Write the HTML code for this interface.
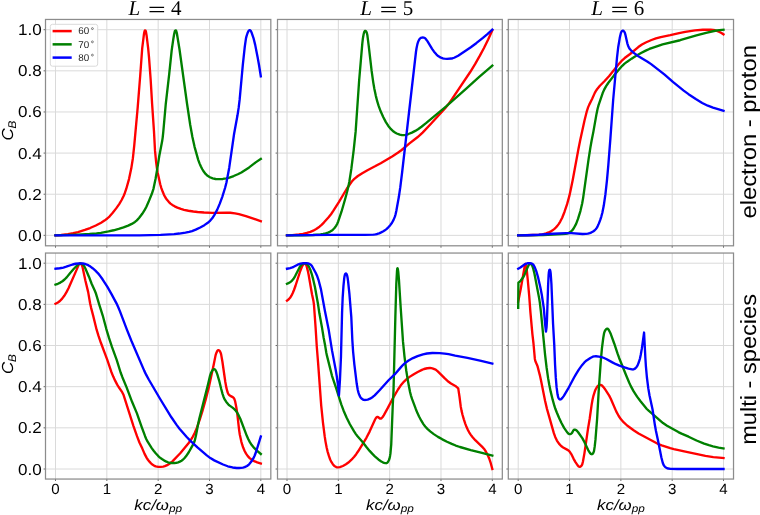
<!DOCTYPE html><html><head><meta charset="utf-8"><style>html,body{margin:0;padding:0;background:#fff;width:760px;height:515px;overflow:hidden}svg{display:block;will-change:transform;text-rendering:geometricPrecision}</style></head><body>
<svg width="760" height="515" viewBox="0 0 760 515">
<rect width="760" height="515" fill="#fff"/>
<clipPath id="c00"><rect x="45.50" y="19.45" width="225.32" height="226.35"/></clipPath>
<path d="M55.50,19.45V245.80M106.83,19.45V245.80M158.16,19.45V245.80M209.49,19.45V245.80M260.82,19.45V245.80M45.50,235.35H270.82M45.50,194.22H270.82M45.50,153.09H270.82M45.50,111.96H270.82M45.50,70.83H270.82M45.50,29.70H270.82" stroke="#dadada" stroke-width="1" fill="none"/>
<path d="M55.50,235.35 61.24,234.96 67.93,234.11 73.11,233.25 77.97,232.06 84.91,229.95 90.07,228.04 95.79,225.52 101.11,222.75 104.49,220.61 107.28,218.51 109.66,216.29 112.33,213.31 116.18,208.39 119.20,204.10 121.63,200.02 123.73,195.76 124.94,192.74 126.23,188.95 129.01,179.09 131.29,168.32 132.89,158.20 134.23,145.51 137.70,107.41 140.24,75.25 142.20,48.32 144.02,33.68 144.60,31.05 144.87,30.54 145.18,30.35 145.59,30.72 145.89,31.54 146.58,35.47 148.12,47.87 149.01,57.33 150.67,79.78 152.15,104.49 153.97,131.19 155.01,150.67 156.19,162.61 156.94,168.31 157.64,172.51 160.22,184.23 161.36,188.06 162.72,191.82 163.97,194.82 165.27,197.24 166.80,199.53 168.72,201.83 170.50,203.57 172.30,204.92 174.66,206.32 177.38,207.60 180.88,208.93 183.99,209.87 188.40,210.76 193.34,211.52 197.57,211.99 204.05,212.49 212.30,212.83 226.80,212.55 230.29,212.76 235.00,213.33 238.92,214.12 245.89,216.13 260.82,221.16" stroke="#ff0000" stroke-width="2.35" fill="none" stroke-linejoin="round" stroke-linecap="square" clip-path="url(#c00)"/>
<path d="M55.50,235.35 77.99,234.58 89.48,234.01 96.46,233.48 100.91,232.86 108.53,231.41 113.65,230.27 118.73,228.95 123.51,227.47 128.17,225.67 131.78,223.93 134.97,221.97 136.86,220.36 139.22,217.78 142.24,213.79 144.42,210.44 146.40,206.68 148.36,202.35 151.85,193.78 153.53,188.55 155.52,179.01 157.26,168.90 159.23,156.31 162.13,141.33 162.68,137.62 163.24,132.40 165.76,104.01 169.17,74.45 171.65,50.58 173.22,39.69 174.16,34.02 174.80,31.37 175.17,30.59 175.53,30.32 175.89,30.43 176.21,30.89 176.82,32.98 179.45,49.02 187.12,104.24 190.24,125.01 192.40,137.07 194.58,146.83 198.23,159.83 199.52,163.35 200.92,166.56 202.18,169.00 203.74,171.56 205.57,173.93 207.61,175.76 209.93,177.22 212.70,178.36 215.62,178.98 218.36,179.19 222.85,178.96 226.30,178.39 229.44,177.55 233.68,176.04 237.81,174.26 241.37,172.44 249.15,167.44 255.66,162.38 260.82,158.85" stroke="#008000" stroke-width="2.35" fill="none" stroke-linejoin="round" stroke-linecap="square" clip-path="url(#c00)"/>
<path d="M55.50,235.35 139.54,235.31 160.54,234.86 174.02,234.08 179.25,233.54 185.44,232.66 189.12,231.95 192.01,231.14 195.73,229.68 200.22,227.48 204.36,225.15 207.45,223.02 210.27,220.55 212.21,218.27 214.78,214.28 217.25,209.65 219.79,203.66 222.20,197.09 225.04,188.02 226.46,182.45 229.23,167.70 234.07,134.03 237.45,115.58 238.65,107.92 239.64,99.73 242.84,64.61 244.76,46.96 245.94,38.54 246.47,36.35 247.47,33.26 248.26,31.43 248.94,30.49 249.63,30.15 250.32,30.39 250.89,31.08 251.53,32.41 253.49,38.08 255.14,44.63 257.52,56.65 259.06,65.27 260.82,76.38" stroke="#0000ff" stroke-width="2.35" fill="none" stroke-linejoin="round" stroke-linecap="square" clip-path="url(#c00)"/>
<path d="M55.50,245.80v1.9M106.83,245.80v1.9M158.16,245.80v1.9M209.49,245.80v1.9M260.82,245.80v1.9M45.50,235.35h-1.9M45.50,194.22h-1.9M45.50,153.09h-1.9M45.50,111.96h-1.9M45.50,70.83h-1.9M45.50,29.70h-1.9" stroke="#555" stroke-width="0.9" fill="none"/>
<rect x="45.50" y="19.45" width="225.32" height="226.35" fill="none" stroke="#8c8c8c" stroke-width="1.25"/>
<clipPath id="c01"><rect x="277.50" y="19.45" width="224.82" height="226.35"/></clipPath>
<path d="M287.00,19.45V245.80M338.33,19.45V245.80M389.66,19.45V245.80M440.99,19.45V245.80M492.32,19.45V245.80M277.50,235.35H502.32M277.50,194.22H502.32M277.50,153.09H502.32M277.50,111.96H502.32M277.50,70.83H502.32M277.50,29.70H502.32" stroke="#dadada" stroke-width="1" fill="none"/>
<path d="M287.00,235.35 292.24,235.12 298.96,234.41 302.91,233.82 306.81,232.92 310.40,231.84 313.16,230.68 316.20,228.96 319.49,226.69 321.58,224.91 323.85,222.58 328.37,217.57 331.02,214.25 333.26,210.93 338.85,202.05 346.79,188.73 351.64,181.76 352.93,180.23 354.35,178.83 357.86,176.02 362.26,173.15 367.47,170.18 375.47,166.07 380.72,163.16 392.55,156.15 397.82,152.80 401.66,150.00 409.51,143.41 417.42,137.29 419.88,135.17 422.59,132.57 430.51,124.24 445.17,108.17 448.34,104.31 451.97,99.22 470.20,72.02 475.06,64.15 479.87,55.67 483.98,47.94 488.16,39.41 492.32,30.32" stroke="#ff0000" stroke-width="2.35" fill="none" stroke-linejoin="round" stroke-linecap="square" clip-path="url(#c01)"/>
<path d="M287.00,235.35 303.00,235.25 313.00,235.04 320.47,234.37 323.19,233.95 325.62,233.39 328.00,232.64 329.82,231.85 331.52,230.82 333.05,229.56 334.74,227.73 336.06,225.92 337.14,223.97 338.21,221.44 341.56,211.49 345.44,198.03 347.11,191.75 348.38,186.39 349.37,181.49 351.33,168.89 353.75,149.54 355.63,131.63 359.16,80.24 362.32,43.36 362.86,38.64 363.58,34.45 364.18,32.13 364.82,31.01 365.16,30.83 365.53,30.88 366.22,31.59 366.85,33.04 367.32,34.95 368.69,45.61 371.63,70.95 373.24,82.34 374.39,88.99 375.73,95.35 377.18,101.18 378.64,105.96 380.64,111.35 383.21,117.05 385.87,122.14 388.31,125.92 391.00,129.20 393.57,131.55 395.01,132.54 396.74,133.52 399.75,134.69 401.93,135.13 403.90,135.19 405.84,134.86 408.45,134.02 411.91,132.58 415.24,130.88 418.02,129.19 421.48,126.72 426.01,123.18 446.19,106.38 466.24,88.66 479.21,76.91 492.32,65.69" stroke="#008000" stroke-width="2.35" fill="none" stroke-linejoin="round" stroke-linecap="square" clip-path="url(#c01)"/>
<path d="M287.00,235.35 329.27,234.95 365.03,234.93 373.53,234.59 375.51,234.37 377.21,233.98 379.10,233.32 381.15,232.40 383.38,231.26 384.86,230.34 386.44,229.12 388.09,227.59 390.26,225.17 392.00,222.73 393.55,219.88 394.89,216.65 395.59,214.25 396.30,211.08 398.83,197.05 400.30,187.15 402.14,172.26 415.99,51.75 416.53,48.29 417.34,44.38 417.96,42.22 418.76,40.39 419.83,38.72 420.34,38.21 420.93,37.84 421.84,37.59 422.81,37.54 423.78,37.64 424.66,37.98 425.75,38.92 427.42,41.10 432.09,48.80 434.04,51.70 436.31,54.36 438.14,56.05 439.40,56.85 440.98,57.60 442.85,58.30 444.30,58.67 447.03,58.87 451.26,58.53 452.73,58.23 454.14,57.75 458.16,55.74 470.81,47.21 476.24,43.20 482.91,37.94 487.69,33.91 492.32,29.70" stroke="#0000ff" stroke-width="2.35" fill="none" stroke-linejoin="round" stroke-linecap="square" clip-path="url(#c01)"/>
<path d="M287.00,245.80v1.9M338.33,245.80v1.9M389.66,245.80v1.9M440.99,245.80v1.9M492.32,245.80v1.9M277.50,235.35h-1.9M277.50,194.22h-1.9M277.50,153.09h-1.9M277.50,111.96h-1.9M277.50,70.83h-1.9M277.50,29.70h-1.9" stroke="#555" stroke-width="0.9" fill="none"/>
<rect x="277.50" y="19.45" width="224.82" height="226.35" fill="none" stroke="#8c8c8c" stroke-width="1.25"/>
<clipPath id="c02"><rect x="508.30" y="19.45" width="225.22" height="226.35"/></clipPath>
<path d="M518.20,19.45V245.80M569.53,19.45V245.80M620.86,19.45V245.80M672.19,19.45V245.80M723.52,19.45V245.80M508.30,235.35H733.52M508.30,194.22H733.52M508.30,153.09H733.52M508.30,111.96H733.52M508.30,70.83H733.52M508.30,29.70H733.52" stroke="#dadada" stroke-width="1" fill="none"/>
<path d="M518.20,235.35 532.70,235.04 539.20,234.76 542.42,234.35 546.04,233.39 548.63,232.47 550.45,231.63 552.15,230.59 554.14,229.08 555.81,227.58 557.15,226.10 558.64,224.09 560.12,221.77 562.20,217.78 564.47,211.96 567.10,204.14 569.30,196.18 570.72,189.84 572.82,179.54 578.39,149.29 580.30,139.72 584.51,120.42 586.64,111.93 588.09,107.40 589.27,104.65 592.08,99.06 594.69,93.11 595.79,91.14 597.04,89.28 599.89,85.79 604.64,80.99 608.99,76.17 618.61,64.32 622.44,60.03 624.69,58.06 630.10,54.02 638.31,47.07 641.97,44.46 645.73,42.48 651.47,40.00 655.95,38.42 660.75,37.04 670.31,35.11 679.09,33.09 685.23,31.92 695.12,30.42 702.84,29.75 710.59,29.73 713.09,29.93 715.06,30.25 716.96,30.84 719.47,31.95 721.44,33.04 723.52,34.43" stroke="#ff0000" stroke-width="2.35" fill="none" stroke-linejoin="round" stroke-linecap="square" clip-path="url(#c02)"/>
<path d="M518.20,235.35 543.20,235.06 561.94,234.11 565.67,233.81 568.09,233.26 570.28,232.08 572.16,230.47 573.76,228.24 576.12,223.84 578.00,218.94 580.40,211.04 582.22,203.25 583.19,197.58 588.62,158.95 590.46,147.09 591.59,140.69 593.36,131.86 596.57,113.64 597.60,108.74 598.57,105.12 602.68,93.05 604.19,89.62 605.98,86.32 608.20,83.00 613.69,75.87 619.58,68.73 622.26,65.76 624.29,63.91 626.86,61.92 631.58,58.64 635.39,56.24 641.06,53.06 645.73,50.65 649.35,48.96 653.09,47.53 662.59,44.40 680.10,40.24 696.43,35.48 706.08,32.85 715.09,30.74 719.29,30.12 723.52,29.70" stroke="#008000" stroke-width="2.35" fill="none" stroke-linejoin="round" stroke-linecap="square" clip-path="url(#c02)"/>
<path d="M518.20,235.35 527.20,235.21 538.70,234.78 553.16,233.72 565.90,233.13 571.40,233.20 582.62,234.02 585.85,233.94 587.81,233.60 589.73,233.05 591.58,232.32 593.10,231.49 594.49,230.46 595.71,229.24 596.75,227.86 597.61,226.35 598.93,223.38 600.26,219.88 601.32,216.54 602.35,212.68 603.78,205.57 605.40,194.43 606.93,180.51 608.33,165.07 610.43,138.15 613.20,99.48 616.98,57.89 618.25,46.96 619.77,37.84 620.89,32.99 621.46,31.72 622.25,30.84 622.86,30.64 623.63,30.91 624.30,31.66 624.81,32.69 625.36,34.58 627.31,43.36 628.08,45.73 628.91,47.53 629.84,49.00 630.95,50.33 634.12,53.14 638.40,56.17 647.61,61.72 651.12,64.11 664.31,74.44 673.19,82.14 683.69,90.62 688.53,94.17 695.79,99.07 702.21,102.94 707.82,105.69 712.98,107.58 723.52,110.73" stroke="#0000ff" stroke-width="2.35" fill="none" stroke-linejoin="round" stroke-linecap="square" clip-path="url(#c02)"/>
<path d="M518.20,245.80v1.9M569.53,245.80v1.9M620.86,245.80v1.9M672.19,245.80v1.9M723.52,245.80v1.9M508.30,235.35h-1.9M508.30,194.22h-1.9M508.30,153.09h-1.9M508.30,111.96h-1.9M508.30,70.83h-1.9M508.30,29.70h-1.9" stroke="#555" stroke-width="0.9" fill="none"/>
<rect x="508.30" y="19.45" width="225.22" height="226.35" fill="none" stroke="#8c8c8c" stroke-width="1.25"/>
<clipPath id="c10"><rect x="45.50" y="253.05" width="225.32" height="226.00"/></clipPath>
<path d="M55.50,253.05V479.05M106.83,253.05V479.05M158.16,253.05V479.05M209.49,253.05V479.05M260.82,253.05V479.05M45.50,469.00H270.82M45.50,427.84H270.82M45.50,386.68H270.82M45.50,345.52H270.82M45.50,304.36H270.82M45.50,263.20H270.82" stroke="#dadada" stroke-width="1" fill="none"/>
<path d="M55.50,303.74 57.93,302.46 59.91,300.95 62.16,298.62 64.28,295.83 66.35,292.41 68.52,288.19 76.68,269.65 78.68,264.81 79.37,263.89 80.08,263.60 80.84,263.87 81.63,264.72 82.15,265.82 82.56,267.26 85.31,280.23 88.18,292.14 90.09,303.23 91.05,307.62 93.15,315.60 96.61,329.69 98.43,335.67 100.79,342.53 107.29,359.86 111.27,371.71 113.23,376.58 115.12,380.66 117.20,384.66 118.62,387.01 122.18,392.15 123.61,395.05 133.48,426.03 137.00,436.19 139.44,442.49 142.32,448.59 144.58,453.88 146.68,457.86 147.92,459.74 149.47,461.69 151.03,463.31 152.74,464.77 154.39,465.88 155.76,466.44 158.21,466.84 160.71,466.88 163.19,466.59 164.87,466.16 167.15,465.14 169.51,463.74 171.11,462.54 172.42,461.38 180.24,453.29 188.51,443.26 190.70,440.22 192.28,437.67 194.79,432.77 196.93,427.71 199.90,419.21 202.49,410.85 205.71,399.54 208.74,387.67 213.58,365.18 215.56,355.37 216.24,353.23 217.11,351.17 217.64,350.42 218.31,350.07 219.04,350.29 219.95,351.35 220.71,352.91 221.18,354.58 222.46,361.97 225.32,382.03 226.47,388.17 227.57,392.28 228.25,393.87 229.16,395.02 230.35,395.89 232.76,397.15 233.66,397.96 234.42,399.22 235.07,401.10 236.29,407.23 237.15,412.67 239.12,430.06 239.78,434.51 241.32,441.60 242.20,444.73 243.16,447.57 244.63,451.02 246.06,453.65 247.79,456.10 249.66,458.10 251.84,459.78 254.22,461.14 257.23,462.36 260.82,463.44" stroke="#ff0000" stroke-width="2.35" fill="none" stroke-linejoin="round" stroke-linecap="square" clip-path="url(#c10)"/>
<path d="M55.50,284.60 57.85,283.77 60.32,282.57 62.42,281.21 64.56,279.49 66.67,277.37 70.39,272.66 73.87,268.73 77.80,264.89 79.15,263.82 79.79,263.53 80.47,263.43 81.16,263.54 81.82,263.81 83.16,264.87 84.48,266.68 85.39,268.45 89.04,276.95 91.63,283.72 94.82,290.78 96.03,293.79 99.25,304.57 102.73,315.53 106.34,329.06 108.98,337.92 111.95,346.95 116.69,359.85 120.61,372.51 122.38,377.18 126.50,387.11 132.26,402.31 136.93,413.36 141.54,426.58 145.08,436.20 146.24,438.96 147.49,441.41 151.88,448.39 153.66,450.80 155.91,453.48 158.27,456.07 159.93,457.59 161.95,459.05 164.93,460.88 166.48,461.69 168.11,462.32 169.79,462.77 171.52,462.99 174.52,463.00 176.24,462.80 178.17,462.29 179.80,461.65 181.55,460.69 182.94,459.65 184.37,458.26 185.99,456.36 188.91,452.00 193.42,443.92 194.15,442.34 194.73,440.69 196.06,435.10 198.14,424.04 199.08,419.64 207.92,384.74 209.97,375.98 210.83,373.37 211.99,370.89 213.08,369.60 214.06,369.16 214.82,369.35 215.43,370.00 216.22,371.53 217.25,374.07 219.09,380.31 221.15,388.81 222.61,394.11 223.65,397.19 224.82,399.67 226.29,401.99 228.22,404.28 229.70,405.62 232.53,407.67 234.07,408.95 235.47,410.36 236.69,411.94 238.56,415.19 240.29,418.79 246.89,436.08 248.22,439.04 249.85,442.13 251.75,445.07 254.14,447.95 256.64,450.40 260.82,453.98" stroke="#008000" stroke-width="2.35" fill="none" stroke-linejoin="round" stroke-linecap="square" clip-path="url(#c10)"/>
<path d="M55.50,268.76 59.72,268.27 63.39,267.54 66.27,266.71 72.64,264.49 75.53,263.75 79.23,263.35 82.95,263.52 84.89,263.90 86.76,264.52 88.54,265.38 90.44,266.56 92.61,268.23 95.42,270.70 97.55,272.81 99.35,274.88 102.70,279.55 107.41,286.93 111.51,294.09 116.49,303.34 118.16,306.97 119.97,311.36 127.09,330.06 131.47,340.97 144.19,370.62 146.26,374.90 148.75,379.52 160.02,398.72 171.37,417.29 176.78,425.10 179.51,428.67 186.73,436.97 190.20,440.57 197.46,447.45 206.78,455.41 210.37,458.10 214.25,460.36 223.07,464.52 227.75,466.27 232.59,467.48 236.79,468.02 239.03,468.04 241.02,467.91 242.97,467.61 244.63,467.15 247.04,465.99 249.13,464.29 251.34,461.62 253.44,458.23 254.71,455.53 256.01,452.01 260.82,436.48" stroke="#0000ff" stroke-width="2.35" fill="none" stroke-linejoin="round" stroke-linecap="square" clip-path="url(#c10)"/>
<path d="M55.50,479.05v1.9M106.83,479.05v1.9M158.16,479.05v1.9M209.49,479.05v1.9M260.82,479.05v1.9M45.50,469.00h-1.9M45.50,427.84h-1.9M45.50,386.68h-1.9M45.50,345.52h-1.9M45.50,304.36h-1.9M45.50,263.20h-1.9" stroke="#555" stroke-width="0.9" fill="none"/>
<rect x="45.50" y="253.05" width="225.32" height="226.00" fill="none" stroke="#8c8c8c" stroke-width="1.25"/>
<clipPath id="c11"><rect x="277.50" y="253.05" width="224.82" height="226.00"/></clipPath>
<path d="M287.00,253.05V479.05M338.33,253.05V479.05M389.66,253.05V479.05M440.99,253.05V479.05M492.32,253.05V479.05M277.50,469.00H502.32M277.50,427.84H502.32M277.50,386.68H502.32M277.50,345.52H502.32M277.50,304.36H502.32M277.50,263.20H502.32" stroke="#dadada" stroke-width="1" fill="none"/>
<path d="M287.00,300.66 288.77,299.28 290.09,297.79 291.44,295.69 292.76,293.00 293.99,289.99 295.52,285.76 300.26,270.99 301.61,267.49 302.71,265.25 303.72,263.93 304.26,263.63 304.84,263.64 305.38,263.94 305.84,264.45 306.29,265.31 306.68,266.49 307.75,270.60 308.68,275.01 312.00,294.23 313.49,301.33 313.98,304.80 315.59,327.50 316.79,346.72 318.15,363.68 321.24,405.84 323.00,422.76 324.68,436.16 325.52,441.60 326.70,447.74 327.68,451.87 328.89,455.95 330.17,459.48 331.36,461.95 332.98,464.47 334.35,465.90 336.25,467.06 337.18,467.35 337.91,467.43 339.85,467.14 342.89,466.01 345.95,464.32 348.38,462.56 351.51,459.69 354.19,456.72 356.19,454.16 358.15,451.26 366.41,437.84 369.60,431.60 374.95,419.75 375.77,418.22 376.56,417.33 377.12,417.00 377.51,416.94 378.27,417.20 379.92,418.47 380.73,418.60 381.68,418.09 382.66,416.99 383.88,415.11 387.98,407.65 392.25,399.45 398.00,389.48 400.64,385.54 404.05,381.54 406.62,379.16 409.60,376.89 413.79,374.16 417.71,371.94 421.96,369.83 424.05,369.00 427.21,368.26 429.94,368.01 431.42,368.15 433.11,368.58 434.96,369.32 436.25,370.06 437.77,371.36 444.83,378.44 448.56,381.77 450.98,383.54 455.36,385.93 458.24,388.33 459.54,396.99 460.73,406.43 461.56,410.86 462.50,414.76 463.85,419.32 465.33,423.84 466.67,427.35 467.83,429.85 469.16,432.26 470.64,434.58 472.43,436.99 475.25,440.18 483.00,447.65 484.44,449.37 485.70,451.24 487.61,454.76 489.25,458.69 490.76,463.20 492.32,469.00" stroke="#ff0000" stroke-width="2.35" fill="none" stroke-linejoin="round" stroke-linecap="square" clip-path="url(#c11)"/>
<path d="M287.00,283.78 289.04,282.84 290.52,281.92 291.85,280.79 293.16,279.29 295.04,276.34 299.76,266.97 300.89,265.32 301.94,264.29 302.99,263.67 303.92,263.39 304.89,263.35 305.83,263.55 306.69,263.99 307.43,264.62 308.20,265.59 308.98,266.86 310.51,270.28 311.84,274.32 313.14,279.14 314.94,286.94 317.90,303.43 319.38,313.32 321.92,327.09 323.65,337.71 325.14,345.57 326.32,352.72 326.93,355.66 331.99,375.79 336.21,388.35 341.27,404.32 343.51,410.43 346.55,417.55 349.90,424.26 354.08,431.38 355.87,434.09 357.52,436.29 362.37,441.68 366.61,447.25 369.63,450.91 372.17,453.67 374.85,456.30 378.39,459.47 381.25,461.48 382.79,462.30 384.17,462.87 385.35,463.19 386.28,463.20 387.29,462.71 388.08,461.80 388.90,460.27 389.52,458.38 390.06,455.94 390.47,453.22 391.22,444.75 392.78,404.77 393.49,391.29 395.35,317.29 396.31,283.79 397.02,270.81 397.23,268.90 397.36,268.41 397.54,268.28 397.87,269.14 398.24,271.57 398.90,279.04 400.65,307.00 402.98,341.43 404.47,356.36 406.29,370.75 407.38,377.66 409.02,386.77 410.04,391.92 410.88,395.32 412.11,399.13 415.86,409.20 417.55,413.37 419.04,416.54 421.29,420.72 423.40,424.12 425.19,426.52 427.40,428.90 430.20,431.41 433.79,434.11 437.97,436.86 442.31,439.34 446.99,441.71 451.76,443.91 455.70,445.52 459.95,447.00 470.75,450.14 481.92,452.89 492.32,455.62" stroke="#008000" stroke-width="2.35" fill="none" stroke-linejoin="round" stroke-linecap="square" clip-path="url(#c11)"/>
<path d="M287.00,268.76 290.17,268.06 292.33,267.42 293.69,266.81 297.64,264.67 300.45,263.66 301.92,263.39 303.91,263.23 306.66,263.22 308.13,263.40 309.30,263.80 310.37,264.41 311.12,265.05 311.93,265.99 315.66,272.76 316.92,275.48 318.73,280.67 320.97,289.39 324.98,311.27 328.59,329.16 332.10,350.88 335.55,369.05 336.68,375.71 337.91,384.62 338.95,395.32 339.91,380.60 340.99,356.37 342.07,312.63 342.66,297.89 343.46,285.91 344.21,278.45 344.54,276.23 344.89,274.78 345.25,273.94 345.73,273.47 346.01,273.48 346.28,273.66 346.74,274.37 347.13,275.52 347.55,277.48 348.07,281.19 349.39,293.62 351.29,316.80 352.34,340.28 353.09,351.50 354.35,364.44 356.73,383.80 357.79,389.96 358.40,392.38 359.12,394.51 359.81,396.12 360.55,397.41 361.51,398.54 362.67,399.45 363.56,399.83 364.51,399.96 365.99,399.86 367.71,399.53 370.05,398.69 372.79,396.97 374.67,395.32 379.34,390.45 388.56,380.25 394.89,374.21 400.75,367.39 403.13,364.82 404.95,363.10 408.59,360.47 412.97,358.06 417.56,356.08 423.02,354.30 426.94,353.49 432.41,352.96 439.66,353.10 444.63,353.55 448.59,354.17 455.17,355.63 467.46,357.94 481.13,360.95 492.32,363.63" stroke="#0000ff" stroke-width="2.35" fill="none" stroke-linejoin="round" stroke-linecap="square" clip-path="url(#c11)"/>
<path d="M287.00,479.05v1.9M338.33,479.05v1.9M389.66,479.05v1.9M440.99,479.05v1.9M492.32,479.05v1.9M277.50,469.00h-1.9M277.50,427.84h-1.9M277.50,386.68h-1.9M277.50,345.52h-1.9M277.50,304.36h-1.9M277.50,263.20h-1.9" stroke="#555" stroke-width="0.9" fill="none"/>
<rect x="277.50" y="253.05" width="224.82" height="226.00" fill="none" stroke="#8c8c8c" stroke-width="1.25"/>
<clipPath id="c12"><rect x="508.30" y="253.05" width="225.22" height="226.00"/></clipPath>
<path d="M518.20,253.05V479.05M569.53,253.05V479.05M620.86,253.05V479.05M672.19,253.05V479.05M723.52,253.05V479.05M508.30,469.00H733.52M508.30,427.84H733.52M508.30,386.68H733.52M508.30,345.52H733.52M508.30,304.36H733.52M508.30,263.20H733.52" stroke="#dadada" stroke-width="1" fill="none"/>
<path d="M518.20,301.68 520.77,288.69 524.87,265.30 525.32,263.99 525.58,263.93 525.89,264.46 526.69,269.05 527.70,279.25 529.23,296.18 530.40,312.14 532.37,333.81 533.44,342.99 534.85,358.93 535.49,361.60 537.06,364.99 537.58,366.39 539.88,375.35 540.97,380.23 545.12,401.07 546.96,408.86 553.84,433.15 555.21,436.91 556.90,440.53 558.95,443.66 561.13,446.06 563.15,447.51 567.99,450.11 568.78,450.70 569.64,451.59 571.29,454.09 573.49,458.58 575.31,461.85 577.66,465.39 578.63,466.45 579.22,466.76 579.85,466.81 580.47,466.60 581.20,466.02 581.79,465.24 582.22,464.36 582.91,461.71 584.42,453.35 587.95,429.10 589.64,418.99 591.66,404.63 592.52,399.70 593.50,395.57 595.00,390.80 595.71,389.21 596.69,387.47 597.42,386.46 598.30,385.61 599.35,385.03 600.27,384.85 600.95,384.94 601.78,385.36 603.51,387.13 604.69,388.73 609.18,395.65 610.78,398.76 616.21,411.39 618.71,416.01 620.97,419.30 623.79,422.48 627.12,425.50 633.97,430.53 638.57,433.54 657.74,443.82 661.70,445.36 670.25,448.16 673.89,449.08 685.36,451.62 698.34,454.30 705.41,455.92 713.32,457.09 723.52,458.09" stroke="#ff0000" stroke-width="2.35" fill="none" stroke-linejoin="round" stroke-linecap="square" clip-path="url(#c12)"/>
<path d="M518.20,307.86 518.41,282.75 519.75,281.64 520.78,280.55 523.54,276.70 524.45,274.92 527.09,268.44 528.58,265.27 529.22,264.25 529.89,263.72 530.63,263.70 531.30,264.20 532.09,265.42 533.06,267.98 534.42,273.57 539.07,297.89 539.80,302.33 540.90,311.52 545.09,354.83 546.59,367.50 548.10,378.15 549.27,384.80 550.75,391.90 552.66,399.67 554.40,405.94 555.44,409.02 556.81,412.51 559.13,418.04 561.34,422.81 564.10,427.85 567.40,432.56 568.20,433.49 568.76,433.91 569.38,434.14 570.05,434.14 570.93,433.82 571.86,433.07 572.41,432.27 573.41,430.32 574.02,429.74 574.61,429.61 575.25,429.73 576.10,430.16 576.88,430.77 578.17,432.27 582.46,438.43 583.77,440.84 588.19,450.09 589.91,452.85 590.87,453.91 591.63,454.21 592.22,454.10 592.91,453.55 593.43,452.74 594.04,450.86 594.69,446.67 595.47,439.71 597.12,418.76 598.68,391.30 600.75,361.35 601.93,348.40 603.25,337.98 604.12,333.06 604.69,331.42 605.53,329.90 606.31,329.00 606.87,328.68 607.26,328.63 607.98,328.93 608.58,329.63 609.87,332.04 610.90,334.32 614.21,343.49 617.50,353.47 619.03,357.70 626.31,375.80 629.13,382.48 630.80,386.12 633.67,391.39 637.05,396.64 640.33,401.07 646.81,409.01 648.63,410.72 663.04,423.11 667.03,425.68 678.35,432.07 681.51,433.59 688.61,436.69 696.50,440.49 704.13,443.62 708.88,445.20 712.97,446.34 718.59,447.58 723.52,448.42" stroke="#008000" stroke-width="2.35" fill="none" stroke-linejoin="round" stroke-linecap="square" clip-path="url(#c12)"/>
<path d="M518.20,268.76 520.38,267.53 525.26,264.04 526.39,263.55 527.85,263.26 530.59,263.29 531.54,263.49 532.20,263.78 532.95,264.38 533.59,265.13 534.80,267.31 536.40,271.52 537.93,276.82 540.39,287.56 541.74,294.45 543.81,308.07 545.27,325.55 545.97,331.53 546.55,327.32 546.95,320.83 548.09,285.84 548.63,274.84 548.88,272.11 549.26,270.23 549.66,269.66 549.92,269.84 550.15,270.36 550.46,271.76 550.74,273.99 551.43,283.97 553.04,323.46 554.23,344.44 555.08,364.93 555.82,377.91 556.58,387.14 557.52,394.33 558.18,397.24 558.69,398.36 559.26,399.09 559.79,399.41 560.18,399.47 561.16,399.05 562.37,397.84 563.88,395.85 567.85,389.19 574.07,377.49 576.18,373.80 578.97,369.35 582.22,364.91 584.36,362.46 586.61,360.49 590.37,358.02 592.79,356.74 594.22,356.35 595.95,356.28 598.93,356.59 601.63,357.11 603.52,357.76 606.25,359.00 612.37,362.40 615.95,364.18 619.42,365.60 624.60,367.45 628.42,368.64 632.08,369.45 633.05,369.46 633.75,369.32 635.02,368.62 636.43,367.23 637.60,365.33 638.81,362.31 639.97,358.49 640.81,354.57 641.88,348.41 644.06,332.55 645.40,358.54 645.91,366.28 646.92,377.49 648.27,388.16 649.53,395.56 652.56,409.49 654.89,425.08 655.97,430.99 658.27,441.75 661.32,457.21 662.80,463.03 663.78,465.31 664.99,466.87 666.40,467.86 668.26,468.53 670.48,468.83 677.24,469.00 723.52,469.00" stroke="#0000ff" stroke-width="2.35" fill="none" stroke-linejoin="round" stroke-linecap="square" clip-path="url(#c12)"/>
<path d="M518.20,479.05v1.9M569.53,479.05v1.9M620.86,479.05v1.9M672.19,479.05v1.9M723.52,479.05v1.9M508.30,469.00h-1.9M508.30,427.84h-1.9M508.30,386.68h-1.9M508.30,345.52h-1.9M508.30,304.36h-1.9M508.30,263.20h-1.9" stroke="#555" stroke-width="0.9" fill="none"/>
<rect x="508.30" y="253.05" width="225.22" height="226.00" fill="none" stroke="#8c8c8c" stroke-width="1.25"/>
<rect x="50.3" y="24.3" width="47.4" height="41.9" rx="2.2" ry="2.2" fill="#fff" fill-opacity="0.8" stroke="#d6d6d6" stroke-width="0.9"/>
<path d="M52.6,31.10H71.7" stroke="#ff0000" stroke-width="2.5"/>
<text x="78.2" y="34.40" font-family="Liberation Sans" font-size="9.8" fill="#262626">60</text>
<circle cx="92.4" cy="28.60" r="0.95" fill="none" stroke="#333" stroke-width="0.6"/>
<path d="M52.6,44.35H71.7" stroke="#008000" stroke-width="2.5"/>
<text x="78.2" y="47.65" font-family="Liberation Sans" font-size="9.8" fill="#262626">70</text>
<circle cx="92.4" cy="41.85" r="0.95" fill="none" stroke="#333" stroke-width="0.6"/>
<path d="M52.6,57.60H71.7" stroke="#0000ff" stroke-width="2.5"/>
<text x="78.2" y="60.90" font-family="Liberation Sans" font-size="9.8" fill="#262626">80</text>
<circle cx="92.4" cy="55.10" r="0.95" fill="none" stroke="#333" stroke-width="0.6"/>
<text transform="translate(41.7,240.85) scale(1.080,1)" text-anchor="end" font-family="Liberation Sans" font-size="15.80" fill="#000">0.0</text>
<text transform="translate(41.7,199.72) scale(1.080,1)" text-anchor="end" font-family="Liberation Sans" font-size="15.80" fill="#000">0.2</text>
<text transform="translate(41.7,158.59) scale(1.080,1)" text-anchor="end" font-family="Liberation Sans" font-size="15.80" fill="#000">0.4</text>
<text transform="translate(41.7,117.46) scale(1.080,1)" text-anchor="end" font-family="Liberation Sans" font-size="15.80" fill="#000">0.6</text>
<text transform="translate(41.7,76.33) scale(1.080,1)" text-anchor="end" font-family="Liberation Sans" font-size="15.80" fill="#000">0.8</text>
<text transform="translate(41.7,35.20) scale(1.080,1)" text-anchor="end" font-family="Liberation Sans" font-size="15.80" fill="#000">1.0</text>
<text transform="translate(41.7,474.50) scale(1.080,1)" text-anchor="end" font-family="Liberation Sans" font-size="15.80" fill="#000">0.0</text>
<text transform="translate(41.7,433.34) scale(1.080,1)" text-anchor="end" font-family="Liberation Sans" font-size="15.80" fill="#000">0.2</text>
<text transform="translate(41.7,392.18) scale(1.080,1)" text-anchor="end" font-family="Liberation Sans" font-size="15.80" fill="#000">0.4</text>
<text transform="translate(41.7,351.02) scale(1.080,1)" text-anchor="end" font-family="Liberation Sans" font-size="15.80" fill="#000">0.6</text>
<text transform="translate(41.7,309.86) scale(1.080,1)" text-anchor="end" font-family="Liberation Sans" font-size="15.80" fill="#000">0.8</text>
<text transform="translate(41.7,268.70) scale(1.080,1)" text-anchor="end" font-family="Liberation Sans" font-size="15.80" fill="#000">1.0</text>
<text transform="translate(55.50,493.60) scale(1.020,1)" text-anchor="middle" font-family="Liberation Sans" font-size="14.80" fill="#000">0</text>
<text transform="translate(106.83,493.60) scale(1.020,1)" text-anchor="middle" font-family="Liberation Sans" font-size="14.80" fill="#000">1</text>
<text transform="translate(158.16,493.60) scale(1.020,1)" text-anchor="middle" font-family="Liberation Sans" font-size="14.80" fill="#000">2</text>
<text transform="translate(209.49,493.60) scale(1.020,1)" text-anchor="middle" font-family="Liberation Sans" font-size="14.80" fill="#000">3</text>
<text transform="translate(260.82,493.60) scale(1.020,1)" text-anchor="middle" font-family="Liberation Sans" font-size="14.80" fill="#000">4</text>
<text transform="translate(287.00,493.60) scale(1.020,1)" text-anchor="middle" font-family="Liberation Sans" font-size="14.80" fill="#000">0</text>
<text transform="translate(338.33,493.60) scale(1.020,1)" text-anchor="middle" font-family="Liberation Sans" font-size="14.80" fill="#000">1</text>
<text transform="translate(389.66,493.60) scale(1.020,1)" text-anchor="middle" font-family="Liberation Sans" font-size="14.80" fill="#000">2</text>
<text transform="translate(440.99,493.60) scale(1.020,1)" text-anchor="middle" font-family="Liberation Sans" font-size="14.80" fill="#000">3</text>
<text transform="translate(492.32,493.60) scale(1.020,1)" text-anchor="middle" font-family="Liberation Sans" font-size="14.80" fill="#000">4</text>
<text transform="translate(518.20,493.60) scale(1.020,1)" text-anchor="middle" font-family="Liberation Sans" font-size="14.80" fill="#000">0</text>
<text transform="translate(569.53,493.60) scale(1.020,1)" text-anchor="middle" font-family="Liberation Sans" font-size="14.80" fill="#000">1</text>
<text transform="translate(620.86,493.60) scale(1.020,1)" text-anchor="middle" font-family="Liberation Sans" font-size="14.80" fill="#000">2</text>
<text transform="translate(672.19,493.60) scale(1.020,1)" text-anchor="middle" font-family="Liberation Sans" font-size="14.80" fill="#000">3</text>
<text transform="translate(723.52,493.60) scale(1.020,1)" text-anchor="middle" font-family="Liberation Sans" font-size="14.80" fill="#000">4</text>
<text transform="translate(158.16,509.60) scale(1.120,1)" text-anchor="middle" font-family="Liberation Sans" font-style="italic" font-size="15.00" fill="#000">kc/&#969;<tspan font-size="10.50" dy="2.60">pp</tspan></text>
<text transform="translate(389.91,509.60) scale(1.120,1)" text-anchor="middle" font-family="Liberation Sans" font-style="italic" font-size="15.00" fill="#000">kc/&#969;<tspan font-size="10.50" dy="2.60">pp</tspan></text>
<text transform="translate(620.91,509.60) scale(1.120,1)" text-anchor="middle" font-family="Liberation Sans" font-style="italic" font-size="15.00" fill="#000">kc/&#969;<tspan font-size="10.50" dy="2.60">pp</tspan></text>
<text transform="translate(12.80,130.62) rotate(-90) scale(1.050,1)" text-anchor="middle" font-family="Liberation Sans" font-style="italic" font-size="16.00" fill="#000">C<tspan font-size="11.20" dy="2.80">B</tspan></text>
<text transform="translate(12.80,364.05) rotate(-90) scale(1.050,1)" text-anchor="middle" font-family="Liberation Sans" font-style="italic" font-size="16.00" fill="#000">C<tspan font-size="11.20" dy="2.80">B</tspan></text>
<text x="128.60" y="14.85" font-family="Liberation Serif" font-style="italic" font-size="21.00" fill="#000">L</text>
<path d="M149.50,7.30H164.10M149.50,11.60H164.10" stroke="#000" stroke-width="1.15"/>
<text x="171.00" y="14.85" font-family="Liberation Serif" font-size="21.00" fill="#000">4</text>
<text x="360.35" y="14.85" font-family="Liberation Serif" font-style="italic" font-size="21.00" fill="#000">L</text>
<path d="M381.25,7.30H395.85M381.25,11.60H395.85" stroke="#000" stroke-width="1.15"/>
<text x="402.75" y="14.85" font-family="Liberation Serif" font-size="21.00" fill="#000">5</text>
<text x="591.35" y="14.85" font-family="Liberation Serif" font-style="italic" font-size="21.00" fill="#000">L</text>
<path d="M612.25,7.30H626.85M612.25,11.60H626.85" stroke="#000" stroke-width="1.15"/>
<text x="633.75" y="14.85" font-family="Liberation Serif" font-size="21.00" fill="#000">6</text>
<text transform="translate(755.90,131.85) rotate(-90)" text-anchor="middle" font-family="Liberation Sans" font-size="22.00" textLength="173.50" lengthAdjust="spacingAndGlyphs" fill="#000">electron - proton</text>
<text transform="translate(755.90,369.40) rotate(-90)" text-anchor="middle" font-family="Liberation Sans" font-size="22.00" textLength="150.80" lengthAdjust="spacingAndGlyphs" fill="#000">multi - species</text>
</svg></body></html>
